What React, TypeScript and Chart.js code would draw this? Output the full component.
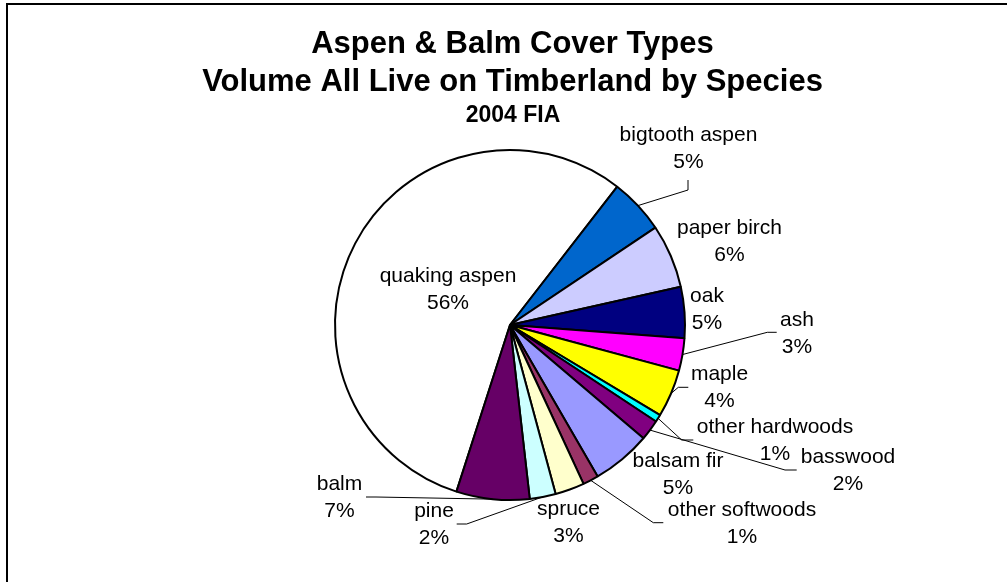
import React, { useEffect, useRef } from 'react';
import { Chart, registerables } from 'chart.js';

Chart.register(...registerables);

// ---- data ----
const TITLE_LINES = ['Aspen & Balm Cover Types', 'Volume All Live on Timberland by Species'];
const SUBTITLE = '2004 FIA';
const SPECIES = [
  'quaking aspen', 'bigtooth aspen', 'paper birch', 'oak', 'ash', 'maple',
  'other hardwoods', 'basswood', 'balsam fir', 'other softwoods', 'spruce', 'pine', 'balm',
];
const SHARES = [55.55, 5.1, 5.9, 4.7, 3.0, 4.4, 0.7, 1.9, 5.45, 1.45, 2.7, 2.4, 6.75];
const COLORS = [
  '#FFFFFF', '#0066CC', '#CCCCFF', '#000080', '#FF00FF', '#FFFF00',
  '#00FFFF', '#800080', '#9999FF', '#993366', '#FFFFCC', '#CCFFFF', '#660066',
];

// ---- label layout (offsets from pie centre: text centre x, first baseline y) ----
const LABEL_OFFSETS: [number, number][] = [
  [-62, -43], [178.5, -184], [219.5, -91], [197, -23.5], [287, 0.5], [209.5, 54.5],
  [265, 107.5], [338, 138], [168, 141.5], [232, 190.5], [58.5, 190], [-76, 191.7], [-170.5, 165],
];
// leader lines: from slice edge -> elbow -> end (offsets from pie centre)
const LEADERS: ([number, number][] | null)[] = [
  null,
  [[178, -135], [178, -145]],
  null,
  null,
  [[257.3, 7.3], [266.7, 7.3]],
  [[168.3, 62.3], [178.3, 62.3]],
  [[171.7, 115], [183.3, 115]],
  [[275, 145], [286.7, 145]],
  null,
  [[143.3, 197.7], [153.3, 197.7]],
  null,
  [[-43.3, 199], [-53.3, 199]],
  [[-134, 172], [-144, 172]],
];

const W = 1007;
const H = 582;
const FONT = '"Liberation Sans", Arial, Helvetica, sans-serif';

const decorPlugin = {
  id: 'decor',
  beforeDraw(chart: any) {
    const ctx = chart.ctx;
    ctx.save();
    ctx.fillStyle = '#FFFFFF';
    ctx.fillRect(0, 0, W, H);
    ctx.fillStyle = '#000000';
    ctx.fillRect(6, 3, 2, H);
    ctx.fillRect(6, 3, W, 2);
    ctx.textAlign = 'center';
    ctx.textBaseline = 'alphabetic';
    ctx.font = `bold 31px ${FONT}`;
    ctx.fillText(TITLE_LINES[0], 512.5, 53);
    ctx.fillText(TITLE_LINES[1], 512.5, 91);
    ctx.font = `bold 23px ${FONT}`;
    ctx.fillText(SUBTITLE, 513, 121.5);
    ctx.restore();
  },
  afterDatasetsDraw(chart: any) {
    const ctx = chart.ctx;
    const meta = chart.getDatasetMeta(0);
    const total = SHARES.reduce((a, b) => a + b, 0);
    ctx.save();
    meta.data.forEach((arc: any, i: number) => {
      const cx = arc.x;
      const cy = arc.y;
      const mid = (arc.startAngle + arc.endAngle) / 2;
      const r = arc.outerRadius;
      const leader = LEADERS[i];
      if (leader) {
        ctx.beginPath();
        ctx.strokeStyle = '#000000';
        ctx.lineWidth = 1;
        ctx.moveTo(cx + Math.cos(mid) * r, cy + Math.sin(mid) * r);
        leader.forEach(([dx, dy]) => ctx.lineTo(cx + dx, cy + dy));
        ctx.stroke();
      }
      const [ox, oy] = LABEL_OFFSETS[i];
      ctx.fillStyle = '#000000';
      ctx.font = `21px ${FONT}`;
      ctx.textAlign = 'center';
      ctx.textBaseline = 'alphabetic';
      ctx.fillText(SPECIES[i], cx + ox, cy + oy);
      const pct = Math.round((SHARES[i] / total) * 100);
      ctx.fillText(`${pct}%`, cx + ox, cy + oy + 27);
    });
    ctx.restore();
  },
};

export default function App() {
  const ref = useRef<HTMLCanvasElement | null>(null);
  useEffect(() => {
    if (!ref.current) return;
    const total = SHARES.reduce((a, b) => a + b, 0);
    const firstSpan = (SHARES[0] / total) * 360;
    const chart = new Chart(ref.current, {
      type: 'pie',
      data: {
        labels: SPECIES,
        datasets: [
          {
            data: SHARES,
            backgroundColor: COLORS,
            borderColor: '#000000',
            borderWidth: 2,
          },
        ],
      },
      options: {
        responsive: false,
        animation: false,
        devicePixelRatio: 1,
        rotation: 37.8 - firstSpan,
        layout: { padding: { left: 334, right: 321, top: 149, bottom: 81 } },
        plugins: {
          legend: { display: false },
          tooltip: { enabled: false },
          title: { display: false },
        },
      },
      plugins: [decorPlugin],
    });
    return () => chart.destroy();
  }, []);
  return (
    <div style={{ position: 'absolute', left: 0, top: 0, width: W, height: H, background: '#fff' }}>
      <canvas ref={ref} width={W} height={H} style={{ width: W, height: H, display: 'block' }} />
    </div>
  );
}
